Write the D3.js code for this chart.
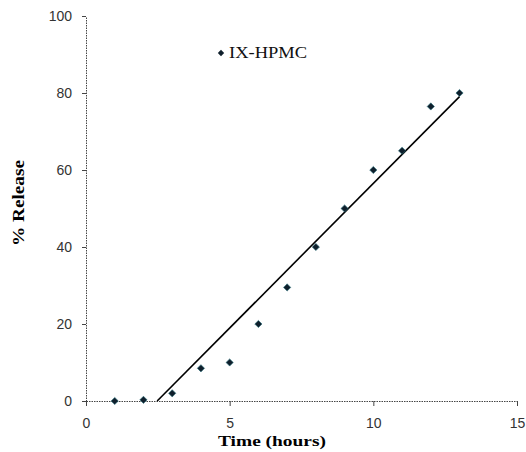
<!DOCTYPE html>
<html>
<head>
<meta charset="utf-8">
<script src="https://cdn.jsdelivr.net/npm/d3@7"></script>
<style>
  body { margin: 0; background: #fff; }
  .tick text { font-family: Arial, "Liberation Sans", sans-serif; font-size: 14px; fill: #333; }
</style>
</head>
<body>
<div id="chart"></div>
<script>
// data
var hours = [1, 2, 3, 4, 5, 6, 7, 8, 9, 10, 11, 12, 13];
var release = [0, 0.3, 2, 8.5, 10, 20, 29.5, 40, 50, 60, 65, 76.5, 80];
var xTicks = [0, 5, 10, 15];
var yTicks = [0, 20, 40, 60, 80, 100];
var seriesName = "IX-HPMC";

var margin = { left: 86, right: 9, top: 16, bottom: 51 };
var width = 526 - margin.left - margin.right,
    height = 452 - margin.top - margin.bottom;

var svg = d3.select("#chart")
    .append("svg")
        .attr("width", 526)
        .attr("height", 452);

var g = svg.append("g")
    .attr("transform", "translate(" + margin.left + "," + margin.top + ")");

var x = d3.scaleLinear().domain([0, 15]).range([0, width]);
var y = d3.scaleLinear().domain([0, 100]).range([height, 0]);

var data = hours.map(function(h, i) { return { x: h, y: release[i] }; });

// X axis
g.append("g")
    .attr("transform", "translate(0," + height + ")")
    .call(d3.axisBottom(x).tickValues(xTicks).tickSize(5).tickSizeOuter(0).tickPadding(12));

// Y axis
g.append("g")
    .call(d3.axisLeft(y).tickValues(yTicks).tickSize(4).tickSizeOuter(0).tickPadding(10));

g.selectAll(".domain")
    .attr("stroke", "#444")
    .attr("stroke-width", 1)
    .attr("stroke-dasharray", "1.5,1");
g.selectAll(".tick line").attr("stroke", "#444");

// Linear trendline (least squares), clipped at y = 0
var mx = d3.mean(data, function(d) { return d.x; }),
    my = d3.mean(data, function(d) { return d.y; });
var sxy = d3.sum(data, function(d) { return (d.x - mx) * (d.y - my); }),
    sxx = d3.sum(data, function(d) { return (d.x - mx) * (d.x - mx); });
var slope = sxy / sxx, intercept = my - slope * mx;
var x0 = Math.max(d3.min(hours), -intercept / slope), x1 = d3.max(hours);

g.append("line")
    .attr("x1", x(x0)).attr("y1", y(slope * x0 + intercept))
    .attr("x2", x(x1)).attr("y2", y(slope * x1 + intercept))
    .attr("stroke", "#000")
    .attr("stroke-width", 1.6);

// Points
var diamond = d3.symbol().type(d3.symbolSquare).size(26);
g.selectAll("path.pt")
    .data(data)
    .enter()
    .append("path")
        .attr("class", "pt")
        .attr("d", diamond)
        .attr("transform", function(d) { return "translate(" + x(d.x) + "," + y(d.y) + ") rotate(45)"; })
        .attr("fill", "#0f1f2c")
        .attr("stroke", "#2a6f7a")
        .attr("stroke-width", 0.6);

// Legend
svg.append("path")
    .attr("d", d3.symbol().type(d3.symbolSquare).size(20))
    .attr("transform", "translate(221,53) rotate(45)")
    .attr("fill", "#0f1f2c");
svg.append("text")
    .attr("x", 229)
    .attr("y", 58)
    .attr("font-family", "'Times New Roman', 'Liberation Serif', serif")
    .attr("font-size", "16px")
    .attr("textLength", 78)
    .attr("lengthAdjust", "spacingAndGlyphs")
    .attr("fill", "#111")
    .text(seriesName);

// X label
svg.append("text")
    .attr("x", 272)
    .attr("y", 446)
    .attr("text-anchor", "middle")
    .attr("font-family", "'Times New Roman', 'Liberation Serif', serif")
    .attr("font-weight", "bold")
    .attr("font-size", "15.5px")
    .attr("textLength", 108)
    .attr("lengthAdjust", "spacingAndGlyphs")
    .text("Time (hours)");

// Y label
svg.append("text")
    .attr("transform", "translate(24,203) rotate(-90)")
    .attr("text-anchor", "middle")
    .attr("font-family", "'Times New Roman', 'Liberation Serif', serif")
    .attr("font-weight", "bold")
    .attr("font-size", "16px")
    .attr("textLength", 86)
    .attr("lengthAdjust", "spacingAndGlyphs")
    .text("% Release");
</script>
</body>
</html>
